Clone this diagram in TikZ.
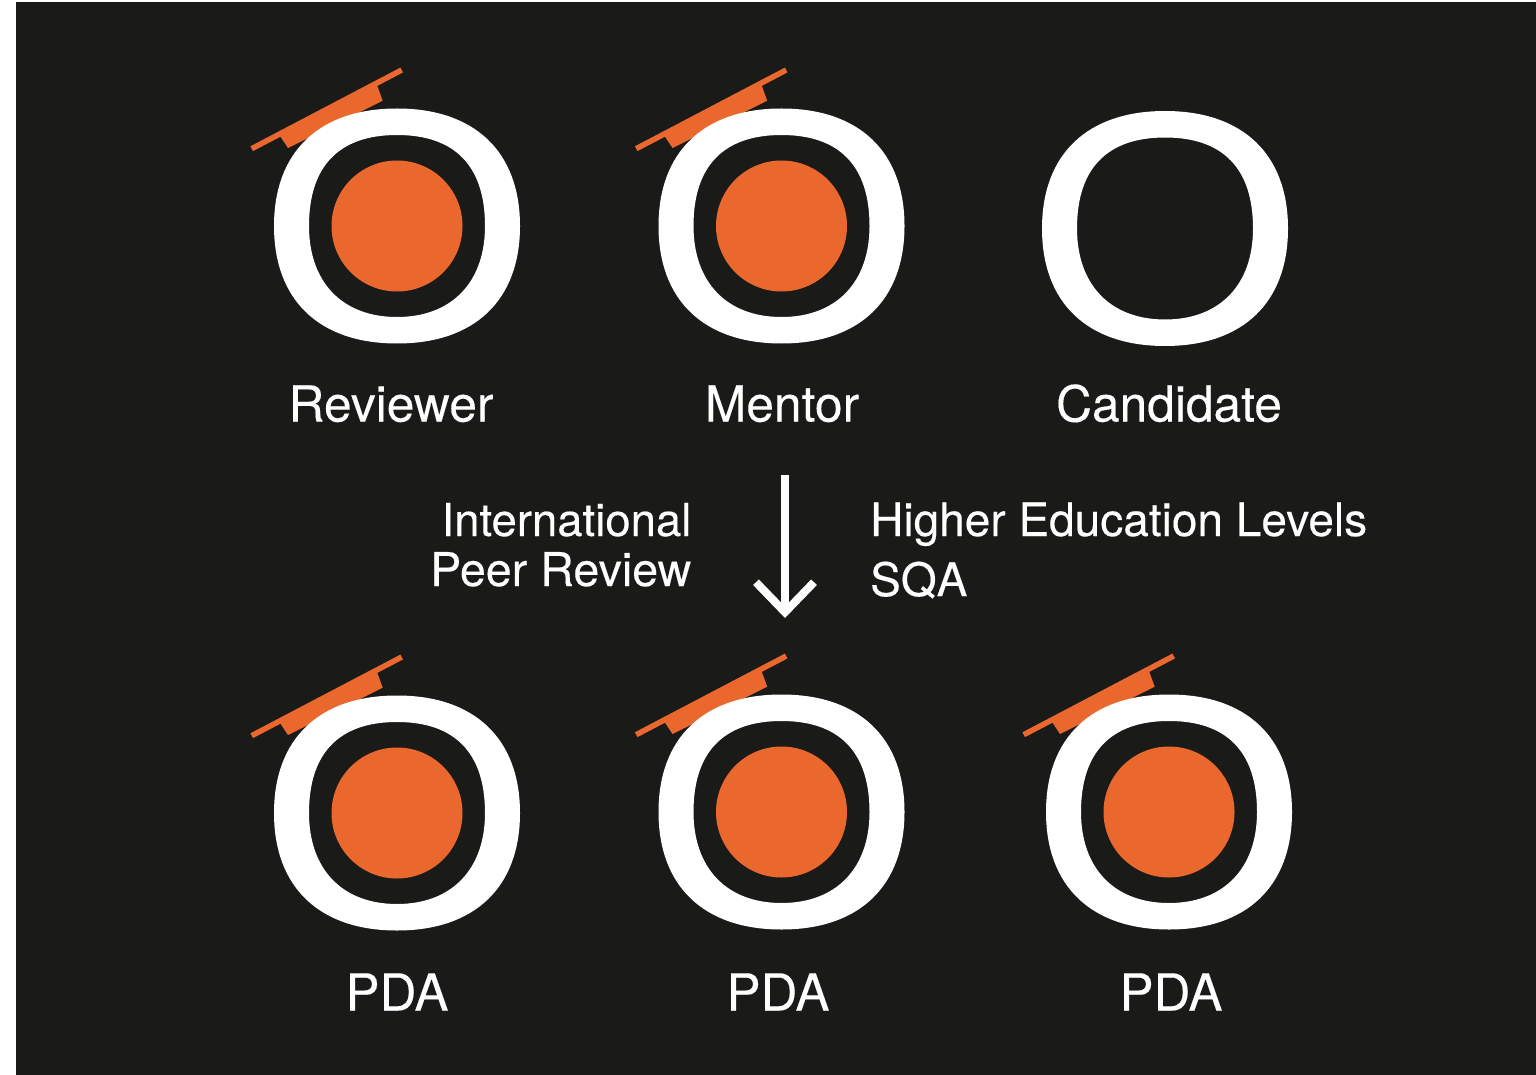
\documentclass[tikz,border=0pt]{standalone}
\usepackage{fontspec}
\setmainfont{TeX Gyre Heros}
\usetikzlibrary{arrows.meta}
\definecolor{bgblack}{HTML}{1A1A18}
\definecolor{accent}{HTML}{EA672E}
\newcommand{\labfont}[1]{\fontsize{#1}{#1}\selectfont\addfontfeature{FakeBold=0.25}}
\tikzset{
  x=1pt,y=-1pt,
  lab/.style={text=white,inner sep=0pt,anchor=base,font=\labfont{49.7}},
  pdalab/.style={text=white,inner sep=0pt,anchor=base,font=\labfont{51}},
  midlab/.style={text=white,inner sep=0pt,font=\labfont{46}},
  disc/.style={circle,fill=accent,inner sep=0pt,minimum size=131pt},
  ringfill/.style={fill=white,even odd rule},
  capfill/.style={fill=accent},
  capbar/.style={draw=accent,line width=5.5pt},
  flow/.style={draw=white,line width=8pt,-{Straight Barb[length=30pt,width=58pt,line width=8pt]}}
}
% ring outline relative to the centre
\newcommand{\ringpath}{
  (-123,0) .. controls (-123,-74) and (-78,-117.5) .. (0,-117.5)
  .. controls (78,-117.5) and (123,-74) .. (123,0)
  .. controls (123,74) and (78,117.5) .. (0,117.5)
  .. controls (-78,117.5) and (-123,74) .. (-123,0) -- cycle
  (-88,0) .. controls (-88,-60) and (-58,-91) .. (0,-91)
  .. controls (58,-91) and (88,-60) .. (88,0)
  .. controls (88,56) and (55,91) .. (0,91)
  .. controls (-55,91) and (-88,56) .. (-88,0) -- cycle
}
\newcommand{\capshape}{
  \draw[capbar] (-145.3,-77.3) -- (4.7,-156);
  \fill[capfill] (-117,-90) -- (-109,-78) -- (-14.3,-125.3) -- (-20,-141) -- cycle;
}
\begin{document}
\begin{tikzpicture}
\useasboundingbox (0,0) rectangle (1536,1075);
\fill[white] (0,0) rectangle (1536,1075);
\fill[bgblack] (16,2) rectangle (1536,1075);

\begin{scope}[shift={(397,226)}]
  \capshape \fill[ringfill] \ringpath;
  \node[disc] (d1) at (0,0) {};
\end{scope}
\begin{scope}[shift={(781.5,226)}]
  \capshape \fill[ringfill] \ringpath;
  \node[disc] (d2) at (0,0) {};
\end{scope}
\begin{scope}[shift={(1165,228.5)}]
  \fill[ringfill] \ringpath;
\end{scope}
\begin{scope}[shift={(397,813)}]
  \capshape \fill[ringfill] \ringpath;
  \node[disc] (d4) at (0,0) {};
\end{scope}
\begin{scope}[shift={(781.5,812)}]
  \capshape \fill[ringfill] \ringpath;
  \node[disc] (d5) at (0,0) {};
\end{scope}
\begin{scope}[shift={(1169,812)}]
  \capshape \fill[ringfill] \ringpath;
  \node[disc] (d6) at (0,0) {};
\end{scope}

\node[lab] (reviewer) at (391,421.5) {Reviewer};
\node[lab] (mentor) at (782,421.5) {Mentor};
\node[lab] (candidate) at (1169,421.5) {Candidate};
\node[pdalab] (pda1) at (397,1010.5) {PDA};
\node[pdalab] (pda2) at (778,1010.5) {PDA};
\node[pdalab] (pda3) at (1171,1010.5) {PDA};

\node[midlab,anchor=base east,font=\labfont{45.5}] (intl) at (691.5,536) {International};
\node[midlab,anchor=base east,font=\labfont{46.6}] (peer) at (691.5,586) {Peer Review};
\node[midlab,anchor=base west] (hel) at (870,536) {Higher Education Levels};
\node[midlab,anchor=base west] (sqa) at (870,596) {SQA};

\coordinate (arrowtop) at (785,475);
\coordinate (arrowend) at (785,618);
\draw[flow] (arrowtop) -- (arrowend);
\end{tikzpicture}
\end{document}
